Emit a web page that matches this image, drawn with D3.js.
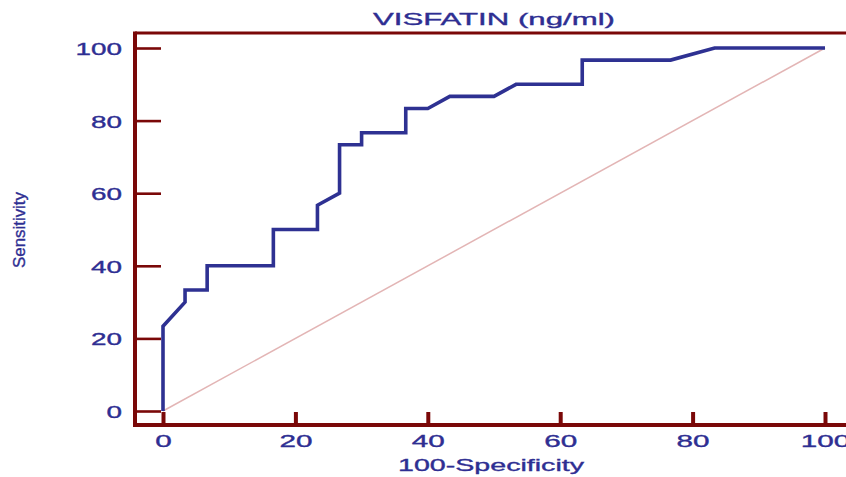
<!DOCTYPE html>
<html>
<head>
<meta charset="utf-8">
<script src="https://cdn.jsdelivr.net/npm/d3@7"></script>
<style>
  html, body { margin: 0; padding: 0; background: #fff; }
  svg { display: block; }
  text { font-family: "Liberation Sans", Arial, sans-serif; fill: #2e2e92; stroke: #2e2e92; stroke-width: 0.35; }
</style>
</head>
<body>
<svg id="chart" width="846" height="477"></svg>
<script>
// ROC curve data (100-Specificity vs Sensitivity)
const fpr = [0, 0, 3.33, 3.33, 6.67, 6.67, 16.67, 16.67, 23.33, 23.33, 26.67, 26.67, 30, 30, 36.67, 36.67, 40, 43.33, 50, 53.33, 63.33, 63.33, 76.67, 83.33, 100];
const tpr = [0, 23.33, 30, 33.33, 33.33, 40, 40, 50, 50, 56.67, 60, 73.33, 73.33, 76.67, 76.67, 83.33, 83.33, 86.67, 86.67, 90, 90, 96.67, 96.67, 100, 100];
const diagX = [0, 100];
const diagY = [0, 100];
const xTicks = [0, 20, 40, 60, 80, 100];
const yTicks = [0, 20, 40, 60, 80, 100];
const titleText = "VISFATIN (ng/ml)";
const xLabel = "100-Specificity";
const yLabel = "Sensitivity";

(function () {
const axisColor = "#7a0808";
const curveColor = "#2e3192";
const diagColor = "#e3b5b5";

const svg = d3.select("#chart");
const x = d3.scaleLinear().domain([0, 100]).range([163, 825]);
const y = d3.scaleLinear().domain([0, 100]).range([411, 48]);

const fLeft = 135, fTop = 33, fBottom = 425, fRight = 846;

// diagonal reference line
svg.append("path")
  .datum(diagX.map((d, i) => [d, diagY[i]]))
  .attr("fill", "none")
  .attr("stroke", diagColor)
  .attr("stroke-width", 1.5)
  .attr("d", d3.line().x(d => x(d[0])).y(d => y(d[1])));

// ROC curve
svg.append("path")
  .datum(fpr.map((d, i) => [d, tpr[i]]))
  .attr("fill", "none")
  .attr("stroke", curveColor)
  .attr("stroke-width", 3.6)
  .attr("stroke-linejoin", "miter")
  .attr("d", d3.line().x(d => x(d[0])).y(d => y(d[1])));

// Y axis
const yAxis = svg.append("g")
  .attr("transform", `translate(${fLeft},0)`)
  .call(d3.axisLeft(y).tickValues(yTicks).tickSizeInner(-26).tickSizeOuter(0).tickPadding(13));
yAxis.select(".domain").remove();
yAxis.selectAll(".tick line").attr("stroke", axisColor).attr("stroke-width", 2.6);
yAxis.selectAll(".tick text")
  .attr("font-size", 17)
  .attr("fill", "#2e2e92")
  .attr("dy", "0.38em")
  .attr("textLength", d => String(d).length * 15.5)
  .attr("lengthAdjust", "spacingAndGlyphs");

// X axis
const xAxis = svg.append("g")
  .attr("transform", `translate(0,${fBottom})`)
  .call(d3.axisBottom(x).tickValues(xTicks).tickSizeInner(-13).tickSizeOuter(0).tickPadding(10));
xAxis.select(".domain").remove();
xAxis.selectAll(".tick line").attr("stroke", axisColor).attr("stroke-width", 4);
xAxis.selectAll(".tick text")
  .attr("font-size", 17)
  .attr("fill", "#2e2e92")
  .attr("textLength", d => String(d).length * 16.5)
  .attr("lengthAdjust", "spacingAndGlyphs");

// frame lines
svg.append("line").attr("x1", fLeft).attr("x2", fRight).attr("y1", fTop).attr("y2", fTop)
  .attr("stroke", axisColor).attr("stroke-width", 3);
svg.append("line").attr("x1", fLeft - 2).attr("x2", fRight).attr("y1", fBottom).attr("y2", fBottom)
  .attr("stroke", axisColor).attr("stroke-width", 4);
svg.append("line").attr("x1", fLeft).attr("x2", fLeft).attr("y1", fTop - 1.5).attr("y2", fBottom + 2)
  .attr("stroke", axisColor).attr("stroke-width", 4);

// title
svg.append("text")
  .attr("x", 494).attr("y", 25)
  .attr("text-anchor", "middle")
  .attr("font-size", 17)
  .attr("textLength", 242)
  .attr("lengthAdjust", "spacingAndGlyphs")
  .text(titleText);

// x label
svg.append("text")
  .attr("x", 491).attr("y", 471)
  .attr("text-anchor", "middle")
  .attr("font-size", 17)
  .attr("textLength", 186)
  .attr("lengthAdjust", "spacingAndGlyphs")
  .text(xLabel);

// y label
svg.append("text")
  .attr("transform", "translate(25,230) rotate(-90)")
  .attr("text-anchor", "middle")
  .attr("font-size", 17)
  .attr("textLength", 76)
  .attr("lengthAdjust", "spacingAndGlyphs")
  .text(yLabel);
})();
</script>
</body>
</html>
